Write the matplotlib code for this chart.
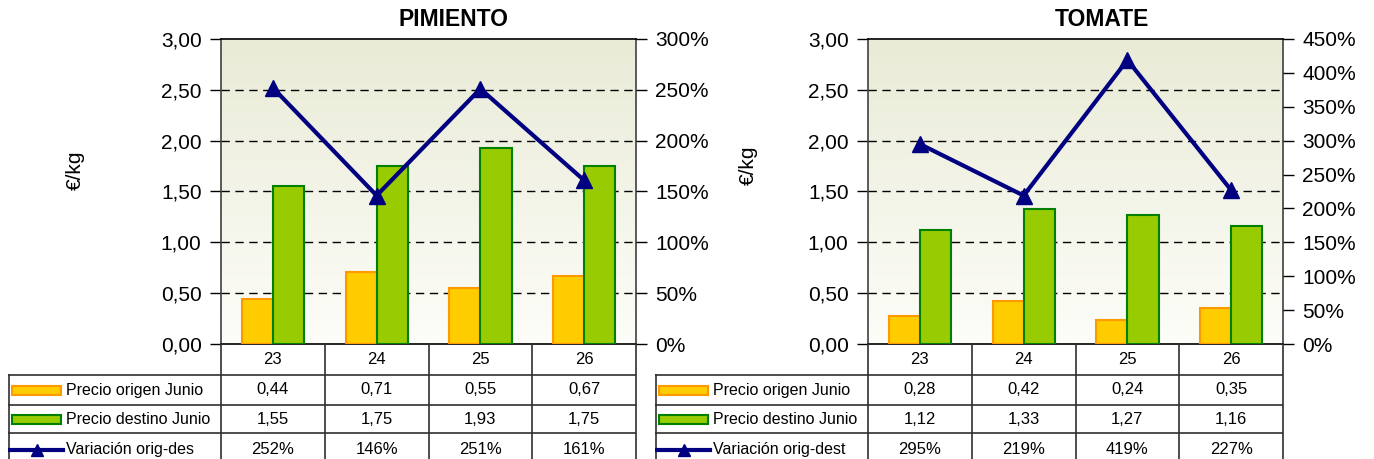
import matplotlib
matplotlib.use("Agg")
import matplotlib.pyplot as plt
import numpy as np
from matplotlib.patches import Rectangle
from matplotlib.ticker import FuncFormatter, MultipleLocator

plt.rcParams['font.family'] = ['Liberation Sans', 'DejaVu Sans']

categories = ['23', '24', '25', '26']
series_names = ['Precio origen Junio', 'Precio destino Junio']
pim_line_name = 'Variación orig-des'
tom_line_name = 'Variación orig-dest'

pim_origen = [0.44, 0.71, 0.55, 0.67]
pim_destino = [1.55, 1.75, 1.93, 1.75]
pim_var = [252, 146, 251, 161]

tom_origen = [0.28, 0.42, 0.24, 0.35]
tom_destino = [1.12, 1.33, 1.27, 1.16]
tom_var = [295, 219, 419, 227]

ORANGE, ORANGE_E = '#FFCC00', '#FF9900'
GREEN, GREEN_E = '#99CC00', '#008000'
NAVY = '#000080'

W, H = 1374, 459
fig = plt.figure(figsize=(W / 100, H / 100), dpi=100)


def fx(px):
    return px / W


def fy(py):
    return 1 - py / H


def comma(v, pos):
    return f"{v:.2f}".replace('.', ',')


def pct(v, pos):
    return f"{int(round(v))}%"


def panel(x0, x1, leg_x0, title, title_x, origen, destino, var, vmax, line_name, ylab_x, ylab_y):
    top, bot = 39, 344
    ax = fig.add_axes([fx(x0), fy(bot), fx(x1 - x0), (bot - top) / H])
    x = np.arange(len(categories))
    # gradient background
    grad = np.linspace(0, 1, 256)[:, None]
    c_top = np.array([233, 235, 214]) / 255
    c_bot = np.array([253, 253, 249]) / 255
    img = c_top[None, None, :] * (1 - grad[:, :, None]) + c_bot[None, None, :] * grad[:, :, None]
    ax.imshow(img, extent=[0, 1, 0, 1], transform=ax.transAxes, aspect='auto', zorder=0)
    ax.bar(x - 0.15, origen, width=0.3, color=ORANGE, edgecolor=ORANGE_E, linewidth=1.5, zorder=3)
    ax.bar(x + 0.15, destino, width=0.3, color=GREEN, edgecolor=GREEN_E, linewidth=1.5, zorder=3)
    ax.set_xlim(-0.5, len(categories) - 0.5)
    ax.set_ylim(0, 3)
    ax.yaxis.set_major_locator(MultipleLocator(0.5))
    ax.yaxis.set_major_formatter(FuncFormatter(comma))
    for gy in np.arange(0.5, 3.0, 0.5):
        ax.axhline(gy, color='black', linestyle=(0, (6, 4)), linewidth=1, zorder=1)
    ax.set_xticks([])
    ax.tick_params(axis='y', labelsize=15, length=8, width=1, direction='out', pad=6)
    for s in ['left', 'right']:
        ax.spines[s].set_color('#404040')
        ax.spines[s].set_linewidth(1.2)
    for s in ['top', 'bottom']:
        ax.spines[s].set_color('black')
        ax.spines[s].set_linewidth(1.2)
    fig.text(fx(title_x), fy(20), title, fontsize=16.5, fontweight='bold', ha='center', va='center')

    ax2 = ax.twinx()
    ax2.plot(x, var, color=NAVY, linewidth=3, marker='^', markersize=11, zorder=5)
    ax2.set_ylim(0, vmax)
    ax2.yaxis.set_major_locator(MultipleLocator(50))
    ax2.yaxis.set_major_formatter(FuncFormatter(pct))
    ax2.tick_params(axis='y', labelsize=15, length=8, width=1, direction='out', pad=6)
    for s in ax2.spines.values():
        s.set_visible(False)

    fig.text(fx(ylab_x), fy(ylab_y), '€/kg', rotation=90, fontsize=15, ha='center', va='center')

    # data table
    unit = (x1 - x0) / len(categories)
    xl = -0.5 - (x0 - leg_x0) / unit
    tab = fig.add_axes([fx(leg_x0), 0, fx(x1 - leg_x0), fy(bot)])
    tab.set_xlim(xl, len(categories) - 0.5)
    tab.set_ylim(H - bot, 0)
    tab.axis('off')
    rows = [0, 31, 61, 89, 122]
    lc = '#303030'
    for b in np.arange(-0.5, len(categories), 1.0):
        tab.plot([b, b], [0, H - bot], color=lc, linewidth=1.2, clip_on=False)
    tab.plot([xl + 0.005, xl + 0.005], [rows[1], H - bot], color=lc, linewidth=1.2, clip_on=False)
    for r in rows[1:4]:
        tab.plot([xl, len(categories) - 0.5], [r, r], color=lc, linewidth=1.2)
    for i, c in enumerate(categories):
        tab.text(i, (rows[0] + rows[1]) / 2, c, ha='center', va='center', fontsize=12)
    vals = [
        [comma(v, None) for v in origen],
        [comma(v, None) for v in destino],
        [f"{v}%" for v in var],
    ]
    names = series_names + [line_name]
    for r in range(3):
        yc = (rows[r + 1] + rows[r + 2]) / 2
        for i in range(len(categories)):
            tab.text(i, yc, vals[r][i], ha='center', va='center', fontsize=12)
        tab.text(xl + 0.56, yc, names[r], ha='left', va='center', fontsize=11.5)
    kx0, kx1 = xl + 0.035, xl + 0.51
    tab.add_patch(Rectangle((kx0, (rows[1] + rows[2]) / 2 - 4.5), kx1 - kx0, 9,
                            facecolor=ORANGE, edgecolor=ORANGE_E, linewidth=1.5))
    tab.add_patch(Rectangle((kx0, (rows[2] + rows[3]) / 2 - 4.5), kx1 - kx0, 9,
                            facecolor=GREEN, edgecolor=GREEN_E, linewidth=1.5))
    ly = (rows[3] + rows[4]) / 2
    tab.plot([xl + 0.02, xl + 0.275, xl + 0.53], [ly, ly, ly], color=NAVY,
             linewidth=3, marker='^', markersize=9, markevery=[1])


panel(221, 636, 8, 'PIMIENTO', 454, pim_origen, pim_destino, pim_var, 300, pim_line_name, 75, 170)
panel(868, 1283, 655, 'TOMATE', 1102, tom_origen, tom_destino, tom_var, 450, tom_line_name, 748, 165)

fig.savefig('out.png', dpi=100)
